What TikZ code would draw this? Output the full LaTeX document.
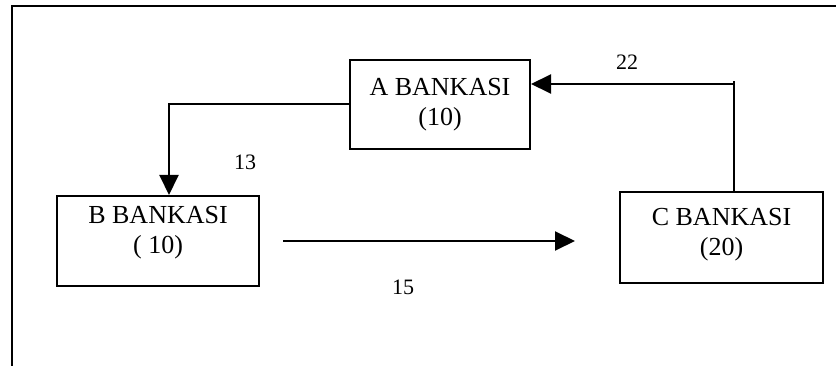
\documentclass[tikz,border=0pt]{standalone}
\usepackage{fontspec}
\setmainfont{Liberation Serif}
\usetikzlibrary{arrows.meta}

\tikzset{
  line/.style={line width=2pt, black},
  arr/.style={line, -{Triangle[length=20pt, width=19pt]}},
  bank/.style={draw, line width=2pt, rectangle, inner sep=0pt},
  banktext/.style={align=center, inner sep=0pt, font=\fontsize{26}{30}\selectfont},
  amount/.style={inner sep=0pt, font=\fontsize{22}{25}\selectfont},
}

\begin{document}
\begin{tikzpicture}[x=1pt, y=-1pt]
  \useasboundingbox (0,0) rectangle (836,366);

  % open frame: left and top edges
  \coordinate (fl) at (11.5,366);
  \coordinate (fc) at (11.5,6.5);
  \coordinate (fr) at (836,6.5);
  \draw[line] (fl) -- (fc) -- (fr);

  % bank boxes
  \node[bank, minimum width=180pt, minimum height=89pt] (a) at (440,104.5) {};
  \node[bank, minimum width=202pt, minimum height=90pt] (b) at (158,241) {};
  \node[bank, minimum width=203pt, minimum height=91pt] (c) at (721.5,237.5) {};

  % box texts
  \node[banktext] (at) at (440,105) {A BANKASI\\(10)};
  \node[banktext] (bt) at (158,233) {B BANKASI\\( 10)};
  \node[banktext] (ct) at (721.5,235) {C BANKASI\\(20)};

  % A -> B
  \draw[arr] (a.west) -| ([xshift=11pt]b.north);

  % C -> A
  \coordinate (ctop) at ([xshift=12pt]c.north);
  \coordinate (turn) at (733.5,81);
  \coordinate (ain) at ([yshift=20.5pt]a.east);
  \draw[line] (ctop) -- (turn);
  \draw[arr] (turn |- ain) -- (ain);

  % B -> C
  \coordinate (bout) at ([xshift=23pt]b.east);
  \coordinate (cin) at (575,241);
  \draw[arr] (bout) -- (cin);

  % amounts
  \node[amount] (l22) at (627,62) {22};
  \node[amount] (l13) at (245,162) {13};
  \node[amount] (l15) at (403,287) {15};
\end{tikzpicture}
\end{document}
